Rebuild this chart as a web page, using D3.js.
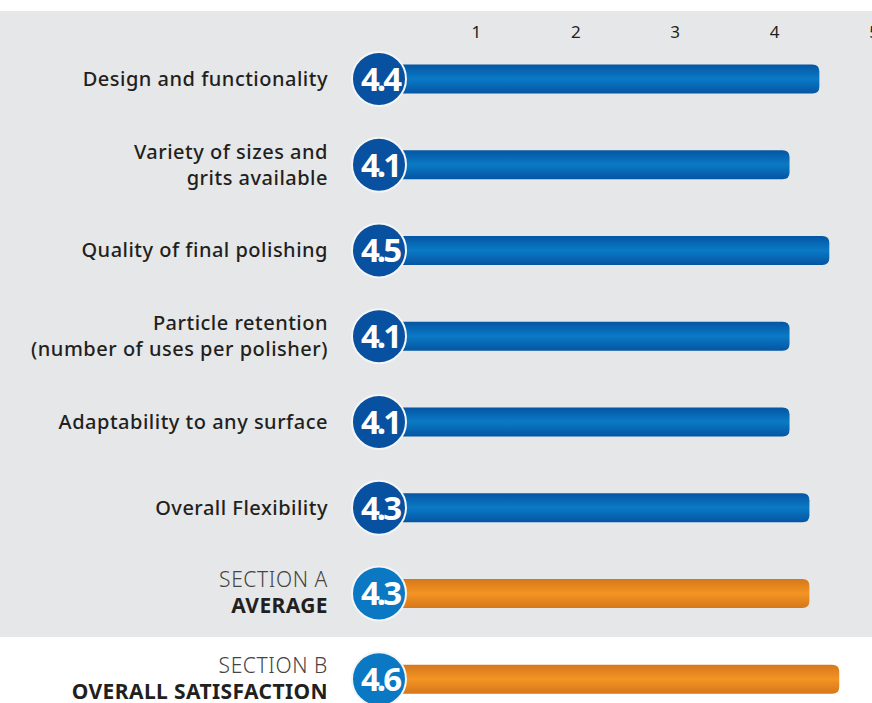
<!DOCTYPE html>
<html>
<head>
	<title>Satisfaction ratings</title>
	<script src="https://cdn.jsdelivr.net/npm/d3@7"></script>
	<style>
		body { margin: 0; background: #fff; }
		text { font-family: "Noto Sans", sans-serif; }
	</style>
</head>
<body>
	<svg id="chart" width="872" height="703"></svg>

	<script>
		// values
		var labels = [
			['Design and functionality'],
			['Variety of sizes and', 'grits available'],
			['Quality of final polishing'],
			['Particle retention', '(number of uses per polisher)'],
			['Adaptability to any surface'],
			['Overall Flexibility'],
			['SECTION A', 'AVERAGE'],
			['SECTION B', 'OVERALL SATISFACTION']
		];
		var scores = [4.4, 4.1, 4.5, 4.1, 4.1, 4.3, 4.3, 4.6];
		var kinds = ['item', 'item', 'item', 'item', 'item', 'item', 'section', 'section'];
		var ticks = [1, 2, 3, 4, 5];

		var svg = d3.select('#chart');
		var defs = svg.append('defs');

		var grad = (id, edge, mid) => {
			var g = defs.append('linearGradient')
				.attr('id', id)
				.attr('x1', 0).attr('y1', 0)
				.attr('x2', 0).attr('y2', 1);
			g.append('stop').attr('offset', '0%').attr('stop-color', edge);
			g.append('stop').attr('offset', '50%').attr('stop-color', mid);
			g.append('stop').attr('offset', '100%').attr('stop-color', edge);
		};
		grad('blueBar', '#0555a3', '#0a7ac5');
		grad('orangeBar', '#d6771c', '#f39423');

		// gray panel behind the items and section A
		svg.append('rect')
			.attr('x', 0)
			.attr('y', 11)
			.attr('width', 872)
			.attr('height', 626)
			.attr('fill', '#e6e7e8');

		var x = d3.scaleLinear()
			.domain([0, 5])
			.range([379, 876]);

		var y = d3.scaleBand()
			.domain(d3.range(scores.length))
			.range([36, 722])
			.paddingInner(0);

		svg.selectAll('.tick')
			.data(ticks)
			.enter()
			.append('text')
			.attr('class', 'tick')
			.attr('x', d => x(d) - 2)
			.attr('y', 38)
			.attr('text-anchor', 'middle')
			.attr('font-size', 17)
			.attr('fill', '#231f20')
			.text(d => d);

		var rows = svg.selectAll('.row')
			.data(scores)
			.enter()
			.append('g')
			.attr('class', 'row')
			.attr('transform', (d, i) => 'translate(0,' + (y(i) + y.bandwidth() / 2) + ')');

		// bars with rounded right end
		rows.append('path')
			.attr('d', (d, i) => {
				var x0 = x(0) + 10, x1 = x(d) + 3, h = 29, r = 7;
				return 'M' + x0 + ',' + (-h / 2) +
					'H' + (x1 - r) +
					'Q' + x1 + ',' + (-h / 2) + ' ' + x1 + ',' + (-h / 2 + r) +
					'V' + (h / 2 - r) +
					'Q' + x1 + ',' + (h / 2) + ' ' + (x1 - r) + ',' + (h / 2) +
					'H' + x0 + 'Z';
			})
			.attr('fill', (d, i) => kinds[i] == 'item' ? 'url(#blueBar)' : 'url(#orangeBar)');

		rows.append('circle')
			.attr('cx', x(0))
			.attr('cy', 0)
			.attr('r', 27)
			.attr('fill', (d, i) => kinds[i] == 'item' ? '#0850a0' : '#0a78c2')
			.attr('stroke', '#f4f5f6')
			.attr('stroke-width', 2);

		rows.append('text')
			.attr('x', x(0) + 1)
			.attr('y', 12)
			.attr('text-anchor', 'middle')
			.attr('font-family', '"DejaVu Sans Condensed", sans-serif')
			.attr('font-weight', 'bold')
			.attr('font-size', 33)
			.attr('letter-spacing', -3)
			.attr('fill', '#fff')
			.text(d => d.toFixed(1));

		// row labels, right aligned
		rows.append('text')
			.attr('text-anchor', 'end')
			.attr('fill', '#231f20')
			.each(function(d, i) {
				var lines = labels[i];
				var t = d3.select(this);
				lines.forEach((line, j) => {
					var s = t.append('tspan')
						.attr('x', 328)
						.attr('y', 7 + (j - (lines.length - 1) / 2) * 26)
						.text(line);
					if (kinds[i] == 'section') {
						s.attr('font-weight', j == 0 ? 300 : 'bold')
							.attr('font-size', 21)
							.attr('letter-spacing', j == 0 ? 0.6 : 0.4)
							.attr('fill', j == 0 ? '#444' : '#231f20');
					} else {
						s.attr('font-weight', 500)
							.attr('font-size', 20)
							.attr('letter-spacing', 0.5);
					}
				});
			});
	</script>
</body>
</html>
